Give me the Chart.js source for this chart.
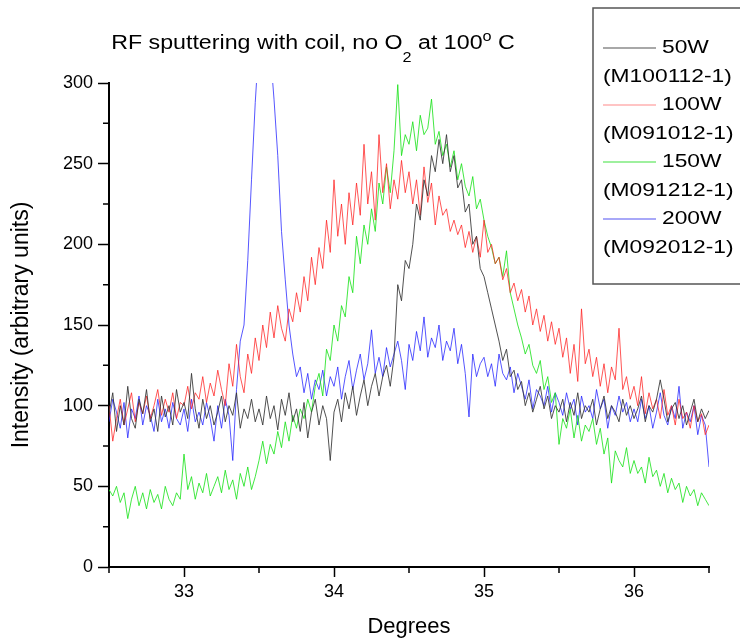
<!DOCTYPE html>
<html>
<head>
<meta charset="utf-8">
<script src="https://cdn.jsdelivr.net/npm/chart.js@4.4.1/dist/chart.umd.min.js"></script>
<style>
  body { margin: 0; background: #fff; }
  #wrap { width: 740px; height: 643px; }
</style>
</head>
<body>
<div id="wrap"><canvas id="chartSputter" width="740" height="643"></canvas></div>
<script>
// XRD scans, every 0.025 degrees from 32.5 to 36.5
var degStart = 32.5, degStep = 0.025;

var counts50W = [
    95, 108, 84, 100, 88, 112, 92, 86, 104, 95, 110, 90, 98, 84, 106, 93, 100, 88, 110, 96,
    102, 92, 120, 98, 86, 104, 92, 100, 88, 96, 106, 90, 100, 94, 108, 86, 98, 92, 104, 90,
    98, 88, 106, 92, 100, 85, 104, 94, 108, 90, 98, 84, 102, 80, 96, 104, 88, 100, 92, 66,
    96, 104, 90, 108, 98, 112, 94, 106, 116, 100, 112, 120, 106, 118, 125, 112, 130, 175, 165, 190,
    185, 200, 225, 215, 240, 230, 255, 245, 265, 250, 268, 245, 255, 235, 240, 220, 225, 200, 205, 185,
    180, 170, 160, 150, 140, 128, 135, 118, 122, 110, 115, 100, 108, 96, 104, 112, 98, 106, 92, 100,
    96, 104, 90, 102, 94, 108, 92, 100, 96, 104, 88, 98, 106, 92, 100, 96, 90, 104, 94, 100,
    92, 98, 106, 90, 100, 96, 104, 116, 104, 90, 98, 102, 92, 100, 88, 96, 104, 90, 98, 92,
    97
];
var counts100W = [
    100, 78, 92, 104, 88, 98, 108, 90, 102, 95, 106, 92, 100, 110, 94, 104, 96, 108, 92, 102,
    100, 112, 98, 108, 104, 118, 102, 114, 106, 122, 110, 100, 126, 112, 138, 118, 108, 132, 120, 142,
    128, 150, 136, 158, 142, 162, 148, 140, 160, 152, 170, 158, 180, 165, 192, 175, 198, 185, 215, 195,
    240, 205, 225, 200, 232, 212, 238, 218, 262, 225, 245, 215, 268, 232, 250, 222, 240, 228, 252, 232,
    245, 225, 240, 218, 248, 226, 238, 212, 230, 218, 222, 208, 215, 206, 212, 198, 208, 195, 205, 192,
    215, 195, 200, 188, 192, 178, 185, 170, 176, 165, 172, 158, 168, 150, 160, 146, 156, 140, 152, 138,
    148, 130, 142, 120, 138, 115, 160, 126, 135, 118, 130, 112, 126, 108, 124, 116, 148, 110, 118, 104,
    112, 100, 118, 95, 108, 98, 104, 92, 110, 94, 100, 88, 104, 92, 96, 86, 100, 90, 95, 82,
    88
];
var counts150W = [
    48, 44, 50, 40, 46, 30, 42, 50, 38, 46, 36, 48, 40, 45, 36, 50, 42, 38, 46, 42,
    70, 48, 56, 42, 52, 46, 58, 44, 50, 56, 46, 60, 48, 54, 42, 58, 50, 62, 48, 56,
    66, 78, 64, 76, 70, 84, 74, 90, 78, 94, 86, 98, 92, 104, 96, 112, 120, 106, 135, 128,
    150, 140, 162, 155, 180, 170, 205, 188, 212, 200, 222, 208, 238, 225, 248, 232, 258, 299, 255, 268,
    262, 276, 258, 280, 268, 272, 290, 262, 270, 255, 262, 248, 258, 240, 250, 236, 230, 242, 222, 228,
    215, 205, 198, 188, 192, 180, 196, 170, 160, 150, 142, 132, 138, 125, 120, 128, 110, 118, 102, 108,
    76, 92, 86, 98, 80, 94, 78, 88, 84, 92, 76, 86, 70, 80, 52, 72, 66, 62, 74, 58,
    66, 58, 62, 52, 68, 56, 60, 50, 58, 46, 55, 48, 52, 40, 50, 44, 48, 38, 46, 42,
    38
];
var counts200W = [
    90, 104, 96, 86, 102, 80, 98, 92, 106, 88, 100, 94, 84, 104, 90, 98, 86, 102, 92, 88,
    98, 84, 104, 90, 96, 88, 102, 92, 78, 100, 86, 104, 94, 66, 110, 140, 150, 190, 240, 288,
    325, 350, 345, 320, 290, 255, 208, 178, 150, 132, 118, 124, 108, 120, 104, 116, 110, 122, 106, 118,
    112, 124, 104, 118, 128, 110, 122, 132, 116, 126, 147, 120, 130, 118, 136, 124, 132, 140, 128, 110,
    138, 128, 146, 134, 155, 130, 142, 136, 150, 128, 140, 134, 148, 126, 138, 120, 93, 132, 118, 126,
    130, 118, 126, 112, 132, 120, 116, 124, 108, 120, 112, 104, 116, 98, 110, 106, 100, 112, 96, 108,
    102, 94, 108, 98, 104, 88, 106, 96, 100, 92, 110, 98, 104, 86, 100, 94, 106, 96, 102, 90,
    98, 90, 104, 92, 100, 86, 96, 108, 94, 88, 100, 92, 112, 86, 96, 90, 100, 82, 94, 88,
    62
];

var seriesNames = ['50W', '100W', '150W', '200W'];
var sampleIds = ['(M100112-1)', '(M091012-1)', '(M091212-1)', '(M092012-1)'];
var lineColors = ['rgba(50,50,50,0.85)', 'rgba(255,30,30,0.75)', 'rgba(20,225,20,0.8)', 'rgba(30,30,255,0.75)'];
var legendColors = ['#a8a8a8', '#ffc4c4', '#9ef09e', '#a8a8f8'];
var yTicks = [0, 50, 100, 150, 200, 250, 300];
var xTicks = [33, 34, 35, 36];

var fontFamily = '"Liberation Sans", Arial, sans-serif';

function toPoints(arr) {
    return arr.map(function(v, i) {
        return { x: +(degStart + i * degStep).toFixed(3), y: v };
    });
}

// text in the reference is a little wider than the font, so stretch it
function wideText(ctx, text, x, y, sx) {
    ctx.save();
    ctx.translate(x, y);
    ctx.scale(sx, 1);
    ctx.fillText(text, 0, 0);
    ctx.restore();
}

// minor ticks, title with sub/superscript and the boxed legend
var decorPlugin = {
    id: 'decor',
    afterDraw: function(chart) {
        var ctx = chart.ctx;
        var xs = chart.scales.x, ys = chart.scales.y;
        ctx.save();
        ctx.strokeStyle = '#000';
        ctx.lineWidth = 1.5;
        ctx.beginPath();
        for (var v = 32.5; v <= 36.5; v += 1) {
            var px = xs.getPixelForValue(v);
            ctx.moveTo(px, ys.bottom);
            ctx.lineTo(px, ys.bottom + 6);
        }
        for (var w = 25; w < 300; w += 50) {
            var py = ys.getPixelForValue(w);
            ctx.moveTo(xs.left, py);
            ctx.lineTo(xs.left - 6, py);
        }
        ctx.stroke();

        // title: RF sputtering with coil, no O2 at 100° C
        var sx = 1.16;
        var big = '20px ' + fontFamily, small = '14px ' + fontFamily;
        var parts = [
            ['RF sputtering with coil, no O', big, 0],
            ['2', small, 13],
            [' at 100', big, 0],
            ['o', small, -8],
            [' C', big, 0]
        ];
        var total = 0;
        parts.forEach(function(p) { ctx.font = p[1]; total += ctx.measureText(p[0]).width * sx; });
        var tx = 313 - total / 2, ty = 49;
        ctx.fillStyle = '#000';
        ctx.textBaseline = 'alphabetic';
        ctx.textAlign = 'left';
        parts.forEach(function(p) {
            ctx.font = p[1];
            wideText(ctx, p[0], tx, ty + p[2], sx);
            tx += ctx.measureText(p[0]).width * sx;
        });

        // legend box
        ctx.strokeStyle = '#555';
        ctx.lineWidth = 1.5;
        ctx.strokeRect(593, 8, 200, 276);
        ctx.font = '19px ' + fontFamily;
        ctx.textBaseline = 'middle';
        for (var i = 0; i < seriesNames.length; i++) {
            var rowY = 48 + i * 57;
            ctx.strokeStyle = legendColors[i];
            ctx.lineWidth = 2;
            ctx.beginPath();
            ctx.moveTo(603, rowY);
            ctx.lineTo(656, rowY);
            ctx.stroke();
            ctx.fillStyle = '#000';
            wideText(ctx, seriesNames[i], 662, rowY, 1.2);
            wideText(ctx, sampleIds[i], 603, rowY + 28.5, 1.2);
        }
        ctx.restore();
    }
};

var allCounts = [counts50W, counts100W, counts150W, counts200W];
var chartData = {
    datasets: allCounts.map(function(arr, i) {
        return {
            label: seriesNames[i] + ' ' + sampleIds[i],
            data: toPoints(arr),
            borderColor: lineColors[i],
            borderWidth: 1,
            pointRadius: 0,
            fill: false,
            tension: 0
        };
    })
};

var ctx = document.getElementById('chartSputter');
var mySputterChart = new Chart(ctx, {
    type: 'line',
    data: chartData,
    plugins: [decorPlugin],
    options: {
        responsive: false,
        animation: false,
        events: [],
        layout: { padding: { top: 83, right: 31, bottom: 0, left: 0 } },
        plugins: {
            legend: { display: false },
            title: { display: false },
            tooltip: { enabled: false }
        },
        scales: {
            x: {
                type: 'linear',
                min: 32.5,
                max: 36.5,
                afterBuildTicks: function(scale) {
                    scale.ticks = xTicks.map(function(v) { return { value: v }; });
                },
                afterFit: function(scale) { scale.height = 76; },
                grid: { drawOnChartArea: false, drawTicks: true, tickLength: 10, tickColor: '#000', tickWidth: 1.5 },
                border: { color: '#000', width: 2 },
                ticks: {
                    color: '#000',
                    padding: 4,
                    maxRotation: 0,
                    font: { family: fontFamily, size: 18 },
                    callback: function(v) { return v; }
                },
                title: {
                    display: true,
                    text: 'Degrees',
                    color: '#000',
                    font: { family: fontFamily, size: 22 },
                    padding: { top: 0, bottom: 3 }
                }
            },
            y: {
                min: 0,
                max: 300,
                afterBuildTicks: function(scale) {
                    scale.ticks = yTicks.map(function(v) { return { value: v }; });
                },
                afterFit: function(scale) { scale.width = 109; },
                grid: { drawOnChartArea: false, drawTicks: true, tickLength: 11, tickColor: '#000', tickWidth: 1.5 },
                border: { color: '#000', width: 2 },
                ticks: {
                    color: '#000',
                    padding: 5,
                    font: { family: fontFamily, size: 18 }
                },
                title: {
                    display: true,
                    text: 'Intensity (arbitrary units)',
                    color: '#000',
                    font: { family: fontFamily, size: 23 },
                    padding: { top: 8, bottom: 0 }
                }
            }
        }
    }
});
</script>
</body>
</html>
